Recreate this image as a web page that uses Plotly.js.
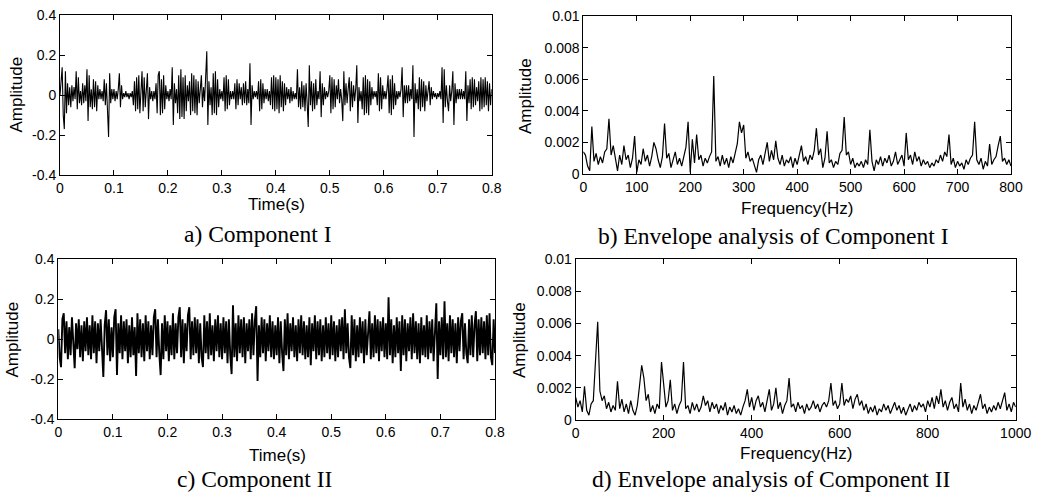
<!DOCTYPE html>
<html>
<head>
<meta charset="utf-8">
<script src="https://cdn.plot.ly/plotly-3.0.1.min.js"></script>
<style>html,body{margin:0;padding:0;background:#fff;}#chart{width:1042px;height:497px;}</style>
</head>
<body>
<div id="chart"></div>
<script>
// ---- Data ----
// a) Component I, sampled every 0.002 s from 0 to 0.8 s
const compIStep = 0.002;
const compI = [
0, 0.08, 0.14, -0.10, -0.17, 0.12, -0.09, 0.06, -0.05, 0.04, -0.06, 0.05, -0.03, 0.04, -0.02, 0.12, -0.07, 0.09, -0.04, 0.02,
-0.05, 0.06, -0.04, 0.05, -0.03, 0.13, -0.13, 0.10, -0.06, 0.03, -0.07, 0.08, -0.06, 0.07, -0.08, 0.05, -0.02, 0.03, -0.02, 0.02,
-0.03, 0.08, -0.05, 0.06, -0.07, -0.21, 0.11, -0.04, 0.03, -0.02, 0.03, -0.03, 0.02, -0.02, 0.03, 0.11, -0.06, 0.05, -0.02, 0.01,
-0.01, 0.02, -0.01, 0.01, -0.02, 0.01, -0.01, 0.02, -0.05, 0.07, -0.08, 0.09, -0.07, 0.10, -0.09, 0.06, 0.12, -0.08, 0.09, -0.06,
0.05, 0.11, -0.12, 0.04, -0.02, 0.02, -0.03, 0.02, -0.02, 0.06, -0.09, 0.10, 0.12, -0.10, 0.08, -0.09, 0.10, -0.07, 0.05, -0.02,
0.02, -0.03, 0.03, -0.02, 0.14, -0.15, 0.06, -0.04, 0.03, -0.09, 0.10, -0.12, 0.13, -0.11, 0.09, -0.12, 0.10, -0.08, 0.05, -0.03,
0.07, -0.10, 0.11, -0.08, 0.10, -0.09, 0.08, -0.10, 0.07, -0.04, 0.03, 0.10, -0.06, 0.04, -0.03, 0.08, 0.22, -0.15, 0.07, -0.05,
0.04, -0.10, 0.11, -0.09, 0.12, -0.10, 0.08, -0.06, 0.03, -0.02, 0.02, -0.03, 0.09, -0.08, 0.10, -0.07, 0.08, -0.05, 0.02, -0.02,
0.02, -0.02, 0.06, -0.07, 0.08, -0.05, 0.06, -0.02, 0.04, -0.05, 0.06, -0.04, 0.07, -0.05, 0.03, -0.04, 0.16, -0.15, 0.05, -0.02,
0.02, -0.01, 0.02, -0.02, 0.07, -0.08, 0.08, -0.07, 0.06, -0.04, 0.03, -0.02, 0.03, -0.03, 0.02, -0.05, 0.09, -0.07, 0.10, -0.08,
0.09, -0.07, 0.08, -0.09, 0.10, -0.06, 0.07, -0.08, 0.06, -0.05, 0.04, -0.02, 0.03, -0.04, 0.04, -0.03, 0.02, -0.02, 0.01, -0.02,
0.13, -0.06, 0.04, -0.07, 0.07, -0.06, 0.05, -0.08, 0.06, -0.04, -0.16, 0.15, -0.05, 0.07, -0.08, 0.06, -0.07, 0.08, -0.05, 0.02,
-0.02, 0.12, -0.11, 0.06, -0.05, 0.04, -0.02, 0.02, -0.01, 0.02, 0.10, -0.09, 0.09, -0.07, 0.08, -0.06, 0.05, -0.02, 0.08, -0.04,
0.03, -0.02, -0.13, 0.12, -0.05, 0.06, -0.04, 0.03, 0.09, -0.08, 0.07, -0.06, 0.05, -0.03, 0.03, 0.15, -0.14, 0.04, -0.03, 0.02,
-0.07, 0.09, -0.10, 0.10, -0.09, 0.08, -0.10, 0.07, -0.05, 0.04, -0.02, 0.02, -0.01, 0.02, -0.05, 0.11, -0.08, 0.09, -0.07, 0.05,
-0.02, 0.02, -0.02, 0.03, 0.10, -0.09, 0.08, -0.10, 0.10, -0.07, 0.06, -0.05, 0.02, -0.02, 0.02, -0.01, 0.03, 0.14, -0.11, 0.05,
-0.04, 0.05, -0.04, 0.05, -0.03, 0.03, -0.02, 0.15, -0.21, 0.06, -0.04, 0.03, -0.07, 0.09, -0.08, 0.08, -0.06, 0.07, -0.08, 0.05,
-0.03, 0.02, 0.07, -0.05, 0.04, -0.02, 0.02, -0.01, 0.01, -0.02, 0.01, -0.01, 0.02, -0.02, 0.14, -0.14, 0.13, -0.06, 0.05, -0.03,
-0.08, 0.05, -0.03, 0.02, 0.12, -0.15, 0.06, -0.04, 0.03, -0.02, 0.03, -0.02, 0.03, -0.02, 0.02, -0.02, 0.12, -0.13, 0.05, -0.04,
0.08, -0.07, 0.09, -0.06, 0.08, -0.05, 0.04, -0.03, 0.07, -0.08, 0.09, -0.07, 0.08, -0.06, 0.09, -0.05, 0.07, -0.08, 0.06, -0.05,
0.03
];

// b) Envelope spectrum of Component I, every 4 Hz from 0 to 800 Hz
const envIStep = 4;
const envI = [
0.0014, 0.0012, 0.0005, 0.0002, 0.0030, 0.0008, 0.0013, 0.0006, 0.0011, 0.0007,
0.0014, 0.0016, 0.0035, 0.0012, 0.0018, 0.0009, 0.0002, 0.0012, 0.0006, 0.0018,
0.0009, 0.0012, 0.0004, 0.0010, 0.0024, 0.0001, 0.0009, 0.0006, 0.0016, 0.0008,
0.0012, 0.0005, 0.0011, 0.0020, 0.0016, 0.0009, 0.0004, 0.0011, 0.0032, 0.0010,
0.0013, 0.0004, 0.0009, 0.0014, 0.0006, 0.0010, 0.0005, 0.0012, 0.0017, 0.0033,
0.0001, 0.0022, 0.0007, 0.0025, 0.0009, 0.0012, 0.0005, 0.0010, 0.0007, 0.0011,
0.0014, 0.0062, 0.0008, 0.0011, 0.0005, 0.0012, 0.0006, 0.0010, 0.0004, 0.0011,
0.0007, 0.0013, 0.0019, 0.0033, 0.0026, 0.0031, 0.0010, 0.0014, 0.0008, 0.0010,
0.0006, 0.0001, 0.0009, 0.0012, 0.0006, 0.0013, 0.0020, 0.0008, 0.0015, 0.0009,
0.0021, 0.0010, 0.0006, 0.0012, 0.0005, 0.0009, 0.0007, 0.0011, 0.0004, 0.0010,
0.0006, 0.0012, 0.0018, 0.0008, 0.0011, 0.0006, 0.0012, 0.0009, 0.0015, 0.0029,
0.0012, 0.0016, 0.0004, 0.0010, 0.0027, 0.0007, 0.0009, 0.0004, 0.0008, 0.0006,
0.0013, 0.0015, 0.0036, 0.0012, 0.0014, 0.0006, 0.0010, 0.0004, 0.0007, 0.0005,
0.0008, 0.0004, 0.0009, 0.0006, 0.0028, 0.0008, 0.0002, 0.0009, 0.0006, 0.0011,
0.0005, 0.0010, 0.0007, 0.0012, 0.0005, 0.0008, 0.0014, 0.0006, 0.0009, 0.0012,
0.0005, 0.0026, 0.0009, 0.0012, 0.0006, 0.0014, 0.0008, 0.0011, 0.0005, 0.0009,
0.0006, 0.0008, 0.0004, 0.0007, 0.0005, 0.0009, 0.0007, 0.0012, 0.0008, 0.0014,
0.0011, 0.0025, 0.0006, 0.0010, 0.0004, 0.0008, 0.0005, 0.0007, 0.0003, 0.0009,
0.0006, 0.0010, 0.0012, 0.0033, 0.0009, 0.0006, 0.0010, 0.0003, 0.0008, 0.0005,
0.0019, 0.0006, 0.0009, 0.0011, 0.0018, 0.0024, 0.0008, 0.0010, 0.0006, 0.0009,
0.0005
];

// c) Component II, sampled every 0.0025 s from 0 to 0.8 s
const compIIStep = 0.0025;
const compII = [
0.05, -0.09, -0.14, 0.10, 0.13, -0.07, 0.09, -0.10, 0.06, -0.08, 0.11, -0.06, -0.145, 0.08, -0.05, 0.10, -0.09, 0.07, -0.11, 0.09,
-0.06, 0.11, -0.08, 0.07, -0.10, 0.12, -0.07, 0.09, -0.12, 0.08, -0.06, 0.10, -0.09, -0.19, 0.07, 0.145, -0.08, 0.10, -0.11, 0.06,
-0.09, 0.11, 0.15, -0.18, 0.08, -0.07, 0.12, -0.10, 0.09, -0.06, 0.10, -0.12, 0.07, -0.09, 0.11, -0.08, 0.06, -0.185, 0.13, -0.07,
0.10, -0.09, 0.08, -0.11, 0.12, -0.06, 0.09, -0.10, 0.07, -0.08, 0.11, 0.15, -0.09, 0.10, -0.07, -0.18, 0.08, -0.10, 0.12, -0.06,
0.09, -0.11, 0.07, -0.08, 0.13, -0.10, 0.08, -0.07, 0.11, 0.16, -0.09, 0.10, -0.12, 0.08, -0.06, 0.12, 0.16, -0.10, 0.09, -0.08,
0.11, -0.07, 0.10, -0.12, 0.08, -0.09, -0.14, 0.12, -0.07, 0.09, -0.10, 0.13, -0.08, 0.07, -0.11, 0.10, -0.06, 0.12, -0.09, 0.08,
-0.10, 0.11, -0.07, 0.09, -0.12, 0.10, -0.08, -0.175, 0.17, -0.09, 0.08, -0.11, 0.12, -0.07, 0.10, -0.09, 0.11, -0.12, 0.08, -0.06,
0.10, -0.10, 0.13, -0.08, 0.09, 0.165, -0.21, 0.07, -0.09, 0.11, -0.07, 0.10, -0.11, 0.08, -0.06, 0.12, -0.09, 0.09, -0.10, 0.07,
-0.08, 0.11, -0.12, 0.09, -0.07, -0.16, 0.10, -0.08, 0.13, -0.10, 0.08, -0.06, 0.11, -0.09, 0.07, -0.11, 0.10, -0.07, 0.12, -0.08,
0.09, -0.10, 0.07, -0.09, 0.11, -0.13, 0.08, -0.06, 0.12, -0.10, 0.09, -0.08, 0.10, -0.11, 0.07, -0.09, 0.11, -0.07, 0.08, -0.10,
0.12, -0.08, 0.09, -0.11, 0.07, -0.09, 0.10, -0.06, 0.11, -0.10, 0.15, -0.07, 0.08, -0.09, -0.145, 0.12, -0.08, 0.10, -0.11, 0.07,
-0.09, 0.11, -0.07, 0.09, -0.12, 0.10, -0.08, 0.07, 0.14, -0.10, 0.08, -0.09, 0.12, -0.07, 0.10, -0.11, 0.09, -0.06, 0.11, -0.09,
0.08, -0.10, 0.21, -0.08, 0.10, -0.12, 0.07, -0.09, 0.11, -0.07, 0.09, -0.16, 0.12, -0.08, 0.10, -0.11, 0.08, -0.06, 0.11, -0.10,
0.13, -0.07, 0.09, -0.10, 0.08, -0.12, 0.11, -0.08, 0.07, -0.09, 0.12, -0.10, 0.09, -0.07, 0.10, -0.11, 0.08, 0.18, -0.20, 0.09,
-0.08, 0.11, -0.10, 0.19, -0.09, 0.08, -0.11, 0.12, -0.07, 0.10, -0.09, 0.08, -0.12, 0.11, -0.06, 0.09, 0.13, -0.10, 0.08, -0.07,
-0.12, 0.10, -0.08, 0.12, -0.09, 0.07, 0.14, -0.11, 0.10, -0.08, 0.11, -0.07, 0.09, -0.10, 0.12, -0.08, 0.13, -0.09, -0.13, 0.10,
-0.07
];

// d) Envelope spectrum of Component II, every 5 Hz from 0 to 1000 Hz
const envIIStep = 5;
const envII = [
0.0014, 0.0008, 0.0012, 0.0005, 0.0021, 0.0006, 0.0003, 0.0010, 0.0012, 0.0040,
0.0061, 0.0018, 0.0012, 0.0015, 0.0007, 0.0011, 0.0005, 0.0009, 0.0006, 0.0024,
0.0007, 0.0013, 0.0005, 0.0010, 0.0004, 0.0012, 0.0006, 0.0003, 0.0009, 0.0021,
0.0034, 0.0026, 0.0012, 0.0016, 0.0005, 0.0009, 0.0004, 0.0010, 0.0007, 0.0036,
0.0022, 0.0008, 0.0012, 0.0025, 0.0006, 0.0010, 0.0004, 0.0009, 0.0012, 0.0036,
0.0007, 0.0009, 0.0004, 0.0011, 0.0006, 0.0010, 0.0005, 0.0008, 0.0015, 0.0009,
0.0012, 0.0005, 0.0011, 0.0007, 0.0010, 0.0004, 0.0009, 0.0006, 0.0011, 0.0003,
0.0008, 0.0005, 0.0009, 0.0004, 0.0007, 0.0003, 0.0008, 0.0012, 0.0019, 0.0008,
0.0014, 0.0006, 0.0012, 0.0015, 0.0008, 0.0011, 0.0005, 0.0012, 0.0019, 0.0006,
0.0010, 0.0020, 0.0007, 0.0011, 0.0004, 0.0009, 0.0012, 0.0026, 0.0008, 0.0010,
0.0005, 0.0011, 0.0007, 0.0009, 0.0004, 0.0010, 0.0006, 0.0008, 0.0012, 0.0007,
0.0010, 0.0005, 0.0009, 0.0011, 0.0008, 0.0012, 0.0023, 0.0009, 0.0012, 0.0007,
0.0010, 0.0023, 0.0009, 0.0013, 0.0011, 0.0015, 0.0007, 0.0013, 0.0016, 0.0009,
0.0012, 0.0006, 0.0010, 0.0004, 0.0008, 0.0005, 0.0009, 0.0003, 0.0007, 0.0005,
0.0010, 0.0006, 0.0009, 0.0004, 0.0008, 0.0011, 0.0006, 0.0009, 0.0004, 0.0008,
0.0003, 0.0007, 0.0010, 0.0005, 0.0009, 0.0006, 0.0011, 0.0008, 0.0010, 0.0005,
0.0012, 0.0008, 0.0014, 0.0007, 0.0015, 0.0010, 0.0019, 0.0008, 0.0012, 0.0006,
0.0011, 0.0014, 0.0007, 0.0010, 0.0005, 0.0023, 0.0008, 0.0013, 0.0006, 0.0010,
0.0004, 0.0009, 0.0006, 0.0011, 0.0016, 0.0007, 0.0010, 0.0004, 0.0008, 0.0005,
0.0009, 0.0006, 0.0011, 0.0007, 0.0012, 0.0017, 0.0006, 0.0010, 0.0005, 0.0011,
0.0008
];

// tick labels
const timeTicks = [0, 0.1, 0.2, 0.3, 0.4, 0.5, 0.6, 0.7, 0.8];
const timeTickText = ['0', '0.1', '0.2', '0.3', '0.4', '0.5', '0.6', '0.7', '0.8'];
const ampTicks = [-0.4, -0.2, 0, 0.2, 0.4];
const ampTickText = ['-0.4', '-0.2', '0', '0.2', '0.4'];
const envTicks = [0, 0.002, 0.004, 0.006, 0.008, 0.01];
const envTickText = ['0', '0.002', '0.004', '0.006', '0.008', '0.01'];
const freqITicks = [0, 100, 200, 300, 400, 500, 600, 700, 800];
const freqIITicks = [0, 200, 400, 600, 800, 1000];

const captions = ['a) Component I', 'b) Envelope analysis of Component I', 'c) Component II', 'd) Envelope analysis of Component II'];

// ---- Build ----
function grid(arr, step) { return arr.map((_, i) => +(i * step).toFixed(6)); }
const W = 1042, H = 497;
const px = v => v / W, py = v => 1 - v / H;

const traces = [
  {x: grid(compI, compIStep), y: compI, xaxis: 'x', yaxis: 'y', mode: 'lines', line: {color: '#000', width: 1.1}, hoverinfo: 'skip'},
  {x: grid(envI, envIStep), y: envI, xaxis: 'x2', yaxis: 'y2', mode: 'lines', line: {color: '#000', width: 1.2}, hoverinfo: 'skip'},
  {x: grid(compII, compIIStep), y: compII, xaxis: 'x3', yaxis: 'y3', mode: 'lines', line: {color: '#000', width: 1.9}, hoverinfo: 'skip'},
  {x: grid(envII, envIIStep), y: envII, xaxis: 'x4', yaxis: 'y4', mode: 'lines', line: {color: '#000', width: 1.2}, hoverinfo: 'skip'}
];

const tickFont = {family: 'Liberation Sans, Arial, sans-serif', size: 14, color: '#000'};
function ax(domain, range, vals, text, anchor) {
  return {
    domain: domain, range: range, anchor: anchor,
    tickmode: 'array', tickvals: vals, ticktext: text,
    ticks: 'inside', ticklen: 5, tickwidth: 1, tickcolor: '#000',
    showline: true, linecolor: '#000', linewidth: 1, mirror: 'ticks',
    showgrid: false, zeroline: false, tickfont: tickFont, fixedrange: true
  };
}

const layout = {
  width: W, height: H, margin: {l: 0, r: 0, t: 0, b: 0},
  paper_bgcolor: '#fff', plot_bgcolor: '#fff', showlegend: false,
  xaxis: ax([px(60), px(491.7)], [0, 0.8], timeTicks, timeTickText, 'y'),
  yaxis: ax([py(175), py(15.3)], [-0.4, 0.4], ampTicks, ampTickText, 'x'),
  xaxis2: ax([px(583.3), px(1011)], [0, 800], freqITicks, freqITicks.map(String), 'y2'),
  yaxis2: ax([py(174), py(16)], [0, 0.01], envTicks, envTickText, 'x2'),
  xaxis3: ax([px(58.3), px(495)], [0, 0.8], timeTicks, timeTickText, 'y3'),
  yaxis3: ax([py(419), py(259.3)], [-0.4, 0.4], ampTicks, ampTickText, 'x3'),
  xaxis4: ax([px(575.7), px(1015.7)], [0, 1000], freqIITicks, freqIITicks.map(String), 'y4'),
  yaxis4: ax([py(420), py(259)], [0, 0.01], envTicks, envTickText, 'x4'),
  annotations: []
};

const titleFont = {family: 'Liberation Sans, Arial, sans-serif', size: 17, color: '#000'};
const capFont = {family: 'Liberation Serif, Times New Roman, serif', size: 23.5, color: '#000'};
function ann(text, x, y, font, angle) {
  layout.annotations.push({text: text, x: px(x), y: py(y), xref: 'paper', yref: 'paper',
    showarrow: false, font: font, textangle: angle || 0, xanchor: 'center', yanchor: 'middle', borderpad: 0});
}
ann('Amplitude', 15.5, 95, titleFont, -90);
ann('Amplitude', 526, 96, titleFont, -90);
ann('Amplitude', 11.5, 340, titleFont, -90);
ann('Amplitude', 519, 340, titleFont, -90);
ann('Time(s)', 276, 205, titleFont);
ann('Frequency(Hz)', 797, 208, titleFont);
ann('Time(s)', 277, 455, titleFont);
ann('Frequency(Hz)', 796, 453, titleFont);
ann(captions[0], 257.5, 234, capFont);
ann(captions[1], 773, 236, capFont);
ann(captions[2], 254, 479, capFont);
ann(captions[3], 771, 479, capFont);

Plotly.newPlot('chart', traces, layout, {displayModeBar: false, staticPlot: true});
</script>
</body>
</html>
